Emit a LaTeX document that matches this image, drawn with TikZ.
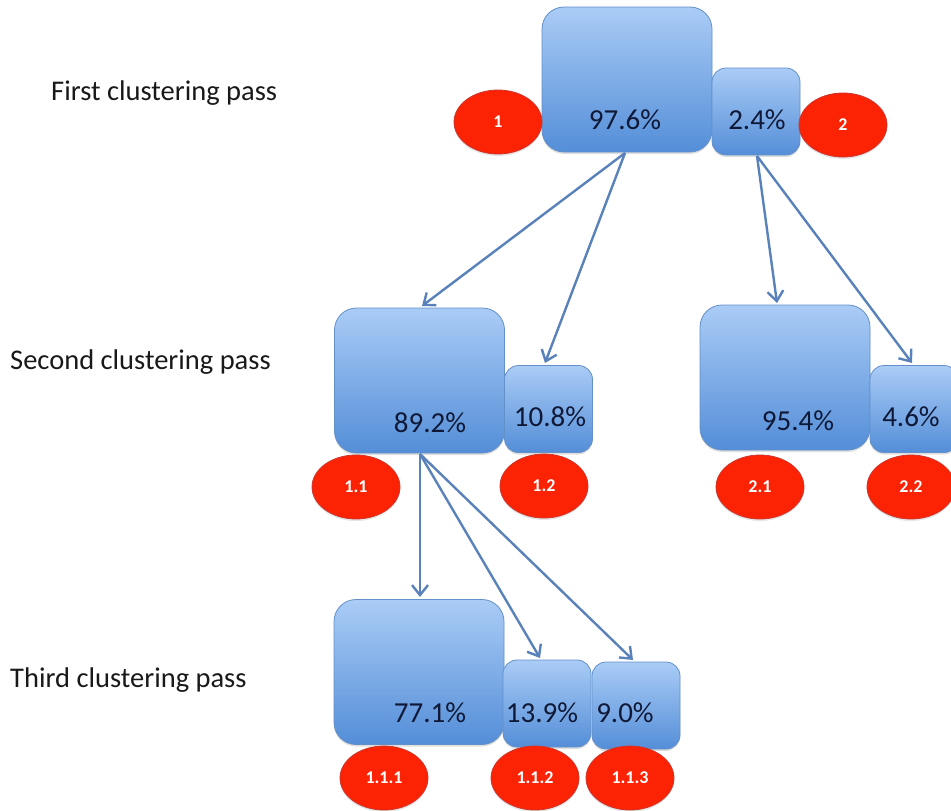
\documentclass[tikz,border=0pt]{standalone}
\usepackage{fontspec}
\setmainfont{Carlito}
\usetikzlibrary{shapes.geometric,arrows.meta,shadows}

\definecolor{boxtop}{RGB}{170,204,246}
\definecolor{boxbot}{RGB}{84,142,216}
\definecolor{boxline}{RGB}{100,144,200}
\definecolor{arrowblue}{RGB}{88,130,185}
\definecolor{badgefill}{RGB}{252,34,4}
\definecolor{badgeline}{RGB}{205,55,45}
\definecolor{pcttext}{RGB}{15,25,55}
\definecolor{passtext}{RGB}{25,25,25}

\tikzset{
  cluster/.style={draw=boxline, line width=0.8pt, top color=boxtop, bottom color=boxbot,
    drop shadow={opacity=0.25, shadow xshift=0pt, shadow yshift=-2pt},
    inner sep=0pt},
  bigbox/.style={cluster, rounded corners=22pt, minimum width=170pt, minimum height=145pt},
  smallbox/.style={cluster, rounded corners=14pt, minimum width=88pt, minimum height=87pt},
  pct/.style={text=pcttext, font=\fontsize{29}{33}\selectfont, inner sep=0pt},
  badge/.style={ellipse, draw=badgeline, line width=0.8pt, fill=badgefill,
    minimum width=88pt, minimum height=64pt, inner sep=0pt,
    text=white, font=\bfseries\fontsize{18}{22}\selectfont,
    drop shadow={opacity=0.2, shadow xshift=0pt, shadow yshift=-2pt}},
  pass/.style={text=passtext, font=\fontsize{28.5}{33}\selectfont, anchor=west, inner sep=0pt},
  link/.style={draw=arrowblue, line width=2.4pt,
    -{Straight Barb[length=10pt,width=16pt,line width=2.4pt]}},
}

\begin{document}
\begin{tikzpicture}[x=1pt,y=-1pt]
\useasboundingbox (0,0) rectangle (951,811);

% level labels
\node[pass] (p1) at (51,93)  {First clustering pass};
\node[pass] (p2) at (10,362) {Second clustering pass};
\node[pass] (p3) at (10,680) {Third clustering pass};

% first pass
\node[bigbox]   (b976) at (627,79.5) {};
\node[smallbox] (b24)  at (756,111.5) {};
\node[pct] (t976) at (625,120) {97.6\%};
\node[pct] (t24)  at (757,120) {2.4\%};
\node[badge] (e1) at (498,122) {1};
\node[badge] (e2) at (843,125) {2};

% second pass
\node[bigbox]   (b892) at (419.5,380.5) {};
\node[smallbox] (b108) at (548.5,409) {};
\node[pct] (t892) at (430,423) {89.2\%};
\node[pct] (t108) at (550,417) {10.8\%};
\node[badge] (e11) at (356,487) {1.1};
\node[badge] (e12) at (544,486) {1.2};

\node[bigbox]   (b954) at (785,377.5) {};
\node[smallbox] (b46)  at (914,409) {};
\node[pct] (t954) at (798,421) {95.4\%};
\node[pct] (t46)  at (911,417) {4.6\%};
\node[badge] (e21) at (760,487) {2.1};
\node[badge] (e22) at (911,487) {2.2};

% third pass
\node[bigbox]   (b771) at (419,672) {};
\node[smallbox] (b139) at (547,703.5) {};
\node[smallbox] (b90)  at (636,705.5) {};
\node[pct] (t771) at (430,713) {77.1\%};
\node[pct] (t139) at (542,713) {13.9\%};
\node[pct] (t90)  at (625,713) {9.0\%};
\node[badge] (e111) at (384,778) {1.1.1};
\node[badge] (e112) at (535,778) {1.1.2};
\node[badge] (e113) at (630,778) {1.1.3};

% splits between passes
\coordinate (s976) at (625,153);
\coordinate (s24)  at (757,156);
\coordinate (s892) at (420,454);
\draw[link] (s976) -- (422,306);
\draw[link] (s976) -- (545,363);
\draw[link] (s24)  -- (777,303);
\draw[link] (s24)  -- (912,363);
\draw[link] (s892) -- (420,597);
\draw[link] (s892) -- (540,658);
\draw[link] (s892) -- (633,660);
\end{tikzpicture}
\end{document}
